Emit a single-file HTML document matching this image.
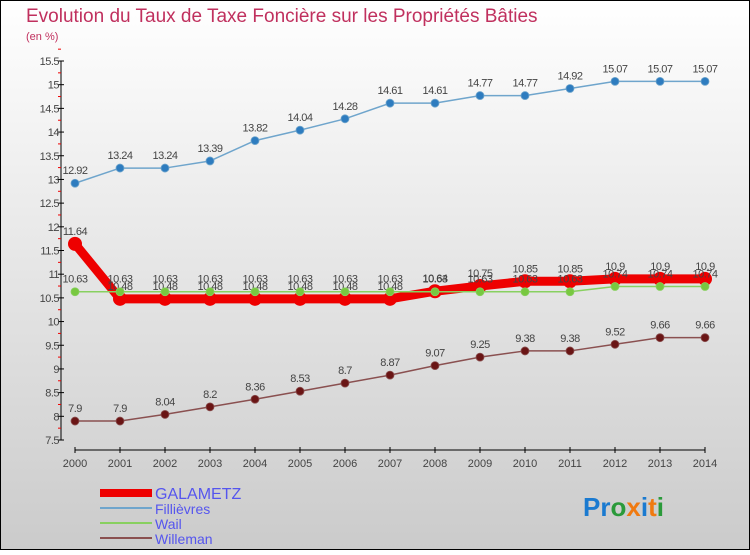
<!DOCTYPE html>
<html><head><meta charset="utf-8"><style>
html,body{margin:0;padding:0}
body{width:750px;height:550px;overflow:hidden;font-family:"Liberation Sans","DejaVu Sans",sans-serif}
</style></head><body>
<svg id="chart" width="750" height="550" xmlns="http://www.w3.org/2000/svg" font-family="Liberation Sans, DejaVu Sans, sans-serif">
<defs><linearGradient id="bg" x1="0" y1="0" x2="0" y2="1"><stop offset="0" stop-color="#ffffff"/><stop offset="1" stop-color="#cbcbcb"/></linearGradient></defs>
<rect x="0.5" y="0.5" width="749" height="549" fill="url(#bg)" stroke="#000"/>
<text x="26" y="22" font-size="19" fill="#c0305e">Evolution du Taux de Taxe Foncière sur les Propriétés Bâties</text>
<text x="26" y="40" font-size="11" fill="#c0305e">(en %)</text>
<g id="axes"></g>
<g id="series"></g>
<g id="legend">
<line x1="100" y1="493" x2="152" y2="493" stroke="#ee0000" stroke-width="8"/>
<text x="155" y="499" font-size="16" fill="#5555ee">GALAMETZ</text>
<line x1="100" y1="508" x2="152" y2="508" stroke="#6fa5cc" stroke-width="2"/>
<text x="155" y="514" font-size="14" fill="#5555ee">Fillièvres</text>
<line x1="100" y1="523" x2="152" y2="523" stroke="#88d060" stroke-width="2"/>
<text x="155" y="529" font-size="14" fill="#5555ee">Wail</text>
<line x1="100" y1="538" x2="152" y2="538" stroke="#8a5050" stroke-width="2"/>
<text x="155" y="544" font-size="14" fill="#5555ee">Willeman</text>
</g>
<text x="583" y="516" font-size="26" font-weight="bold"><tspan fill="#1a7ad0">Pr</tspan><tspan fill="#2a9a3a">o</tspan><tspan fill="#f07a10">x</tspan><tspan fill="#1a7ad0">i</tspan><tspan fill="#f07a10">t</tspan><tspan fill="#2a9a3a">i</tspan></text>
</svg>
<script>
const years=[2000,2001,2002,2003,2004,2005,2006,2007,2008,2009,2010,2011,2012,2013,2014];
const galametz=[11.64,10.48,10.48,10.48,10.48,10.48,10.48,10.48,10.64,10.75,10.85,10.85,10.9,10.9,10.9];
const fillievres=[12.92,13.24,13.24,13.39,13.82,14.04,14.28,14.61,14.61,14.77,14.77,14.92,15.07,15.07,15.07];
const wail=[10.63,10.63,10.63,10.63,10.63,10.63,10.63,10.63,10.63,10.63,10.63,10.63,10.74,10.74,10.74];
const willeman=[7.9,7.9,8.04,8.2,8.36,8.53,8.7,8.87,9.07,9.25,9.38,9.38,9.52,9.66,9.66];
const yTicks=["7.5","8","8.5","9","9.5","10","10.5","11","11.5","12","12.5","13","13.5","14","14.5","15","15.5"];
const NS="http://www.w3.org/2000/svg";
const yMin=7.5,yMax=15.5;
function X(i){return 75+i*(630/(years.length-1));}
function Y(v){return 440-(v-yMin)*(379/(yMax-yMin));}
function mk(t,a,p){const e=document.createElementNS(NS,t);for(const k in a)e.setAttribute(k,a[k]);p.appendChild(e);return e;}
const axes=document.getElementById('axes');
const yl=mk('line',{x1:61,y1:Y(yMax),x2:61,y2:Y(yMin),stroke:'#000'},axes);


yTicks.forEach(t=>{const v=parseFloat(t);const y=Y(v);
 const tk=mk('line',{x1:58,y1:y,x2:64,y2:y,stroke:'#000'},axes);
 
 
 const mt=mk('line',{x1:58,y1:Y(v+0.25),x2:61,y2:Y(v+0.25),stroke:'#e00'},axes);
 
 
 const tx=mk('text',{x:59,y:y+4,'font-size':11,'text-anchor':'end',fill:'#444','letter-spacing':'-0.5'},axes);tx.textContent=t;
 
 
});
const xl=mk('line',{x1:75,y1:450,x2:705,y2:450,stroke:'#000'},axes);


years.forEach((yr,i)=>{const x=X(i);
 const tk=mk('line',{x1:x,y1:447,x2:x,y2:453,stroke:'#000'},axes);
 
 
 const tx=mk('text',{x:x,y:467,'font-size':11,'text-anchor':'middle',fill:'#444'},axes);tx.textContent=yr;
 
 
});
const sg=document.getElementById('series');
function series(name,vals,color,w,r,dot){
 const g=mk('g',{},sg);
 
 
 const pl=mk('polyline',{points:vals.map((v,i)=>X(i)+','+Y(v)).join(' '),fill:'none',stroke:color,'stroke-width':w,'stroke-linejoin':'round'},g);
 
 
 vals.forEach((v,i)=>{
  const c=mk('circle',{cx:X(i),cy:Y(v),r:r,fill:dot,stroke:color==dot?'none':color,'stroke-width':0.8},g);
  
  
  const t=mk('text',{x:X(i),y:Y(v)-9,'font-size':11,'text-anchor':'middle',fill:'#444','letter-spacing':'-0.5'},g);t.textContent=String(v);
  
  
 });
}
series('fillievres',fillievres,'#6fa5cc',1.5,4,'#2e7cbf');
series('willeman',willeman,'#8a5050',1.5,4,'#6a1515');
series('galametz',galametz,'#ee0000',9,7,'#ee0000');
series('wail',wail,'#88d060',1.5,4,'#78c840');
</script>
</body></html>
